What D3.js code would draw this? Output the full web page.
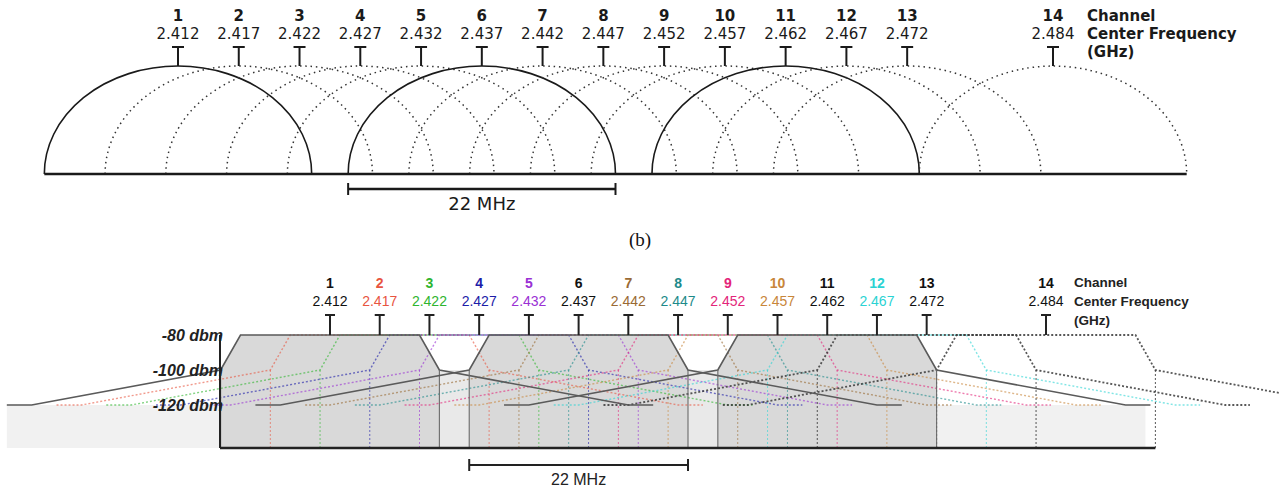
<!DOCTYPE html>
<html>
<head>
<meta charset="utf-8">
<script src="https://cdn.jsdelivr.net/npm/d3@7"></script>
<style>
	body { margin: 0; background: #fff; }
	svg { display: block; }
</style>
</head>
<body>
<div id="chart"></div>
<script>
// channel data (shared by both panels)
const channels = [1, 2, 3, 4, 5, 6, 7, 8, 9, 10, 11, 12, 13, 14];
const centerMHz = [2412, 2417, 2422, 2427, 2432, 2437, 2442, 2447, 2452, 2457, 2462, 2467, 2472, 2484];
const freqLabels = ["2.412", "2.417", "2.422", "2.427", "2.432", "2.437", "2.442", "2.447", "2.452", "2.457", "2.462", "2.467", "2.472", "2.484"];
const channelColors = ["#111111", "#e8553f", "#2fb52f", "#1d1da8", "#9a30d4", "#111111", "#9a6a34", "#1d8a8a",
	"#e3257a", "#c8863a", "#111111", "#2bd3d3", "#111111", "#111111"];
const solidChannels = [1, 6, 11];
const legendLines = ["Channel", "Center Frequency", "(GHz)"];

// spectrum mask: offset from center (MHz) -> level (dBm)
const maskOffsets = [-32.5, -30, -11, -9, 9, 11, 30, 32.5];
const maskLevels = [-120, -120, -100, -80, -80, -100, -120, -120];
const dbmTicks = [-80, -100, -120];
const halfWidthMHz = 11; // 22 MHz channel

const W = 1279, H = 491;
const svg = d3.select("#chart").append("svg").attr("width", W).attr("height", H);

/* ---------------- top panel: arcs ---------------- */
let xTop = d3.scaleLinear().domain([2412, 2484]).range([178, 1053]);
let topBase = 174, topPeak = 66;
let topG = svg.append("g");

let rx = xTop(2412 + halfWidthMHz) - xTop(2412);
let ry = topBase - topPeak;

topG.selectAll("path.arc").data(channels).enter().append("path")
	.attr("class", "arc")
	.attr("d", (d, i) => `M${xTop(centerMHz[i] - halfWidthMHz)},${topBase} A${rx},${ry} 0 0 1 ${xTop(centerMHz[i] + halfWidthMHz)},${topBase}`)
	.attr("fill", "none")
	.attr("stroke", d => solidChannels.includes(d) ? "#1a1a1a" : "#333")
	.attr("stroke-width", d => solidChannels.includes(d) ? 1.6 : 1.5)
	.attr("stroke-dasharray", d => solidChannels.includes(d) ? null : "1.5,3.8");

// baseline
topG.append("line")
	.attr("x1", xTop(2412 - halfWidthMHz)).attr("x2", xTop(2484 + halfWidthMHz))
	.attr("y1", topBase).attr("y2", topBase)
	.attr("stroke", "#1a1a1a").attr("stroke-width", 2.5);

// T markers
channels.forEach((c, i) => {
	let x = xTop(centerMHz[i]);
	topG.append("line").attr("x1", x).attr("x2", x).attr("y1", 47).attr("y2", topPeak)
		.attr("stroke", "#1a1a1a").attr("stroke-width", 2);
	topG.append("line").attr("x1", x - 6).attr("x2", x + 6).attr("y1", 47).attr("y2", 47)
		.attr("stroke", "#1a1a1a").attr("stroke-width", 2);
});

topG.selectAll("text.num").data(channels).enter().append("text")
	.attr("x", (d, i) => xTop(centerMHz[i])).attr("y", 21)
	.attr("text-anchor", "middle")
	.style("font", "bold 15px 'DejaVu Sans'").attr("fill", "#1a1a1a")
	.text(d => d);
topG.selectAll("text.freq").data(freqLabels).enter().append("text")
	.attr("x", (d, i) => xTop(centerMHz[i])).attr("y", 39)
	.attr("text-anchor", "middle")
	.style("font", "15px 'DejaVu Sans'").attr("fill", "#1a1a1a")
	.text(d => d);
topG.selectAll("text.legend").data(legendLines).enter().append("text")
	.attr("x", 1087).attr("y", (d, i) => 21 + i * 18)
	.style("font", "bold 15px 'DejaVu Sans'").attr("fill", "#1a1a1a")
	.text(d => d);

// 22 MHz bar under channel 6
let c6 = centerMHz[5];
let barL = xTop(c6 - halfWidthMHz), barR = xTop(c6 + halfWidthMHz);
topG.append("line").attr("x1", barL).attr("x2", barR).attr("y1", 189).attr("y2", 189)
	.attr("stroke", "#1a1a1a").attr("stroke-width", 2.5);
[barL, barR].forEach(x => {
	topG.append("line").attr("x1", x).attr("x2", x).attr("y1", 183).attr("y2", 195)
		.attr("stroke", "#1a1a1a").attr("stroke-width", 2);
});
topG.append("text").attr("x", (barL + barR) / 2).attr("y", 210)
	.attr("text-anchor", "middle")
	.style("font", "18px 'DejaVu Sans'").attr("fill", "#1a1a1a")
	.text("22 MHz");

svg.append("text").attr("x", 640).attr("y", 246).attr("text-anchor", "middle")
	.style("font", "19px 'Liberation Serif'").attr("fill", "#111")
	.text("(b)");

/* ---------------- bottom panel: spectrum masks ---------------- */
let xBot = d3.scaleLinear().domain([2412, 2484]).range([330, 1046]);
let yBot = d3.scaleLinear().domain([-80, -120]).range([335, 405]);
let botBase = 448, axisX = 220;
let botG = svg.append("g");

let maskPts = c => maskOffsets.map((o, k) => [xBot(c + o), yBot(maskLevels[k])]);
let maskLine = d3.line();

let solidIdx = solidChannels.map(c => channels.indexOf(c));
let firstC = centerMHz[solidIdx[0]], lastC = centerMHz[solidIdx[solidIdx.length - 1]];

// light fill outside the outer solid channels (below -120 dbm)
botG.append("rect")
	.attr("x", xBot(firstC - 32.5)).attr("y", yBot(-120))
	.attr("width", xBot(firstC - halfWidthMHz) - xBot(firstC - 32.5))
	.attr("height", botBase - yBot(-120)).attr("fill", "#f1f1f1");
botG.append("rect")
	.attr("x", xBot(lastC + halfWidthMHz)).attr("y", yBot(-120))
	.attr("width", xBot(lastC + 32) - xBot(lastC + halfWidthMHz))
	.attr("height", botBase - yBot(-120)).attr("fill", "#f1f1f1");
// gaps between solid channels
botG.append("rect")
	.attr("x", xBot(firstC - halfWidthMHz)).attr("y", yBot(-100))
	.attr("width", xBot(lastC + halfWidthMHz) - xBot(firstC - halfWidthMHz))
	.attr("height", botBase - yBot(-100)).attr("fill", "#e9e9e9");

// dark fills for solid channels
solidIdx.forEach(i => {
	let c = centerMHz[i];
	let pts = [[xBot(c - 11), botBase], [xBot(c - 11), yBot(-100)], [xBot(c - 9), yBot(-80)],
		[xBot(c + 9), yBot(-80)], [xBot(c + 11), yBot(-100)], [xBot(c + 11), botBase]];
	botG.append("path").attr("d", maskLine(pts) + "Z").attr("fill", "#d9d9d9");
});

// dotted masks for every other channel
channels.forEach((ch, i) => {
	if (solidChannels.includes(ch)) return;
	let c = centerMHz[i];
	let dark = channelColors[i] == "#111111";
	let g = botG.append("g")
		.attr("stroke", dark ? "#3a3a3a" : channelColors[i])
		.attr("stroke-opacity", dark ? 0.85 : 0.6)
		.attr("fill", "none")
		.attr("stroke-width", dark ? 1.8 : 1.4)
		.attr("stroke-dasharray", "2,2");
	g.append("path").attr("d", maskLine(maskPts(c)));
	[c - halfWidthMHz, c + halfWidthMHz].forEach(f => {
		g.append("line").attr("x1", xBot(f)).attr("x2", xBot(f))
			.attr("y1", yBot(-100)).attr("y2", botBase)
			.attr("stroke-width", 1);
	});
});

// solid masks
solidIdx.forEach(i => {
	let c = centerMHz[i];
	botG.append("path").attr("d", maskLine(maskPts(c)))
		.attr("fill", "none").attr("stroke", "#5a5a5a").attr("stroke-width", 1.6);
	[c - halfWidthMHz, c + halfWidthMHz].forEach(f => {
		botG.append("line").attr("x1", xBot(f)).attr("x2", xBot(f))
			.attr("y1", yBot(-100)).attr("y2", botBase)
			.attr("stroke", "#6a6a6a").attr("stroke-width", 1.1);
	});
});

// axis + baseline
botG.append("line").attr("x1", axisX).attr("x2", axisX).attr("y1", yBot(-80)).attr("y2", botBase)
	.attr("stroke", "#222").attr("stroke-width", 2);
botG.append("line").attr("x1", axisX).attr("x2", xBot(2484 + halfWidthMHz)).attr("y1", botBase).attr("y2", botBase)
	.attr("stroke", "#222").attr("stroke-width", 2.5);

botG.selectAll("text.dbm").data(dbmTicks).enter().append("text")
	.attr("x", axisX + 3).attr("y", d => yBot(d) + 6)
	.attr("text-anchor", "end")
	.style("font", "italic bold 16px 'Liberation Sans'").attr("fill", "#222")
	.text(d => d + " dbm");

// T markers
channels.forEach((c, i) => {
	let x = xBot(centerMHz[i]);
	botG.append("line").attr("x1", x).attr("x2", x).attr("y1", 315).attr("y2", yBot(-80))
		.attr("stroke", "#222").attr("stroke-width", 2);
	botG.append("line").attr("x1", x - 5).attr("x2", x + 5).attr("y1", 315).attr("y2", 315)
		.attr("stroke", "#222").attr("stroke-width", 2);
});

botG.selectAll("text.num").data(channels).enter().append("text")
	.attr("x", (d, i) => xBot(centerMHz[i])).attr("y", 288)
	.attr("text-anchor", "middle")
	.style("font", "bold 14px 'Liberation Sans'")
	.attr("fill", (d, i) => channelColors[i])
	.text(d => d);
botG.selectAll("text.freq").data(freqLabels).enter().append("text")
	.attr("x", (d, i) => xBot(centerMHz[i])).attr("y", 306)
	.attr("text-anchor", "middle")
	.style("font", "14px 'Liberation Sans'")
	.attr("fill", (d, i) => channelColors[i])
	.text(d => d);
botG.selectAll("text.legend").data(legendLines).enter().append("text")
	.attr("x", 1074).attr("y", (d, i) => 287 + i * 19)
	.style("font", "bold 13.5px 'Liberation Sans'").attr("fill", "#222")
	.text(d => d);

// 22 MHz bar
let bL = xBot(c6 - halfWidthMHz), bR = xBot(c6 + halfWidthMHz);
botG.append("line").attr("x1", bL).attr("x2", bR).attr("y1", 465).attr("y2", 465)
	.attr("stroke", "#222").attr("stroke-width", 2);
[bL, bR].forEach(x => {
	botG.append("line").attr("x1", x).attr("x2", x).attr("y1", 459).attr("y2", 471)
		.attr("stroke", "#222").attr("stroke-width", 2);
});
botG.append("text").attr("x", (bL + bR) / 2).attr("y", 485)
	.attr("text-anchor", "middle")
	.style("font", "16px 'Liberation Sans'").attr("fill", "#222")
	.text("22 MHz");
</script>
</body>
</html>
